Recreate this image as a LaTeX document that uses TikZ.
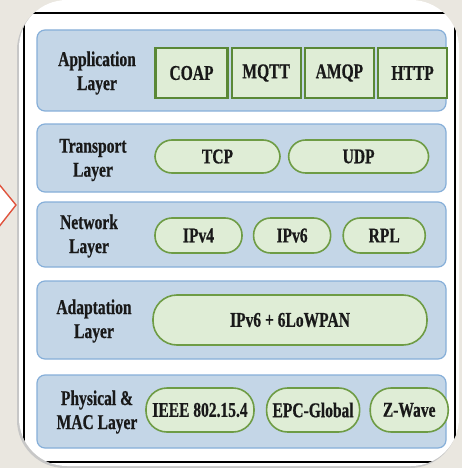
\documentclass[tikz,border=0pt]{standalone}
\usepackage{fontspec}
\newfontfamily\layerfont{Liberation Serif}[FakeStretch=0.74, BoldFeatures={FakeBold=0.6}]
\usetikzlibrary{positioning}
\definecolor{bgbeige}{HTML}{EAE7E0}
\definecolor{layerfill}{HTML}{C4D6E7}
\definecolor{layerdraw}{HTML}{86AFD9}
\definecolor{protofill}{HTML}{DFEDD6}
\definecolor{protodraw}{HTML}{6E9C45}
\definecolor{appdraw}{HTML}{5A8836}
\definecolor{chevred}{HTML}{E0533D}
\tikzstyle{layerbox} = [rectangle, rounded corners=8pt, fill=layerfill, draw=layerdraw, line width=1.2pt,
                        minimum width=409pt, inner sep=0pt]
\tikzstyle{layerlabel} = [align=center, inner sep=0pt, text=black!90,
                          font=\layerfont\bfseries\fontsize{21}{24}\selectfont]
\tikzstyle{appbox} = [rectangle, fill=protofill, draw=appdraw, line width=2.2pt, minimum height=50pt,
                      minimum width=69pt, inner sep=0pt, text=black!90,
                      font=\layerfont\bfseries\fontsize{21}{24}\selectfont]
\tikzstyle{pill} = [rectangle, rounded corners=17pt, fill=protofill, draw=protodraw, line width=1.6pt,
                    inner sep=0pt, text=black!90, font=\layerfont\bfseries\fontsize{21}{24}\selectfont]

\begin{document}
\begin{tikzpicture}[x=1pt, y=-1pt]
    \useasboundingbox (0,0) rectangle (462,468);
    % Slide background and panel
    \fill[bgbeige] (0,0) rectangle (462,468);
    \filldraw[fill=white, draw=chevred, line width=1.4pt] (-2,183) -- (16,205) -- (-2,228);
    \fill[black!22, rounded corners=48pt] (17,2) rectangle (458,468);
    \fill[white, rounded corners=48pt] (19,0) rectangle (459,466);
    \begin{scope}
        \clip[rounded corners=48pt] (19,0) rectangle (459,466);
        \draw[line width=2.2pt] (24,13) rectangle (455,462);
    \end{scope}

    % Layer boxes
    \node[layerbox, minimum height=81pt] (app) at (241.5,70.5) {};
    \node[layerbox, minimum height=68pt] (trans) at (241.5,158) {};
    \node[layerbox, minimum height=65pt] (net) at (241.5,234.5) {};
    \node[layerbox, minimum height=78pt] (adapt) at (241.5,320) {};
    \node[layerbox, minimum height=73pt] (phys) at (241.5,411.5) {};

    % Layer names
    \node[layerlabel] (applbl) at (97,73) {Application\\Layer};
    \node[layerlabel] (translbl) at (93,160) {Transport\\Layer};
    \node[layerlabel] (netlbl) at (89,236) {Network\\Layer};
    \node[layerlabel] (adaptlbl) at (94,321) {Adaptation\\Layer};
    \node[layerlabel] (physlbl) at (97,412) {Physical \&\\MAC Layer};

    % Application protocols
    \node[appbox, minimum width=72pt] (coap) at (191.5,73) {COAP};
    \node[appbox, right=2pt of coap] (mqtt) {MQTT};
    \node[appbox, right=2pt of mqtt] (amqp) {AMQP};
    \node[appbox, right=2pt of amqp] (http) {HTTP};

    % Transport protocols
    \node[pill, minimum width=125pt, minimum height=33pt] (tcp) at (217.5,156.5) {TCP};
    \node[pill, minimum width=140pt, minimum height=33pt, right=7pt of tcp] (udp) {UDP};

    % Network protocols
    \node[pill, minimum width=87pt, minimum height=35pt] (ipv4) at (198.5,235.5) {IPv4};
    \node[pill, minimum width=77pt, minimum height=35pt, right=10pt of ipv4] (ipv6) {IPv6};
    \node[pill, minimum width=82pt, minimum height=35pt, right=11pt of ipv6] (rpl) {RPL};

    % Adaptation
    \node[pill, rounded corners=24pt, minimum width=274pt, minimum height=50pt] (lowpan) at (290,320) {IPv6 + 6LoWPAN};

    % Physical & MAC protocols
    \node[pill, rounded corners=21pt, minimum width=108pt, minimum height=44pt] (ieee) at (200,410) {IEEE 802.15.4};
    \node[pill, rounded corners=21pt, minimum width=93pt, minimum height=44pt, right=11pt of ieee] (epc) {EPC-Global};
    \node[pill, rounded corners=21pt, minimum width=78pt, minimum height=44pt, right=9pt of epc] (zwave) {Z-Wave};
\end{tikzpicture}
\end{document}
